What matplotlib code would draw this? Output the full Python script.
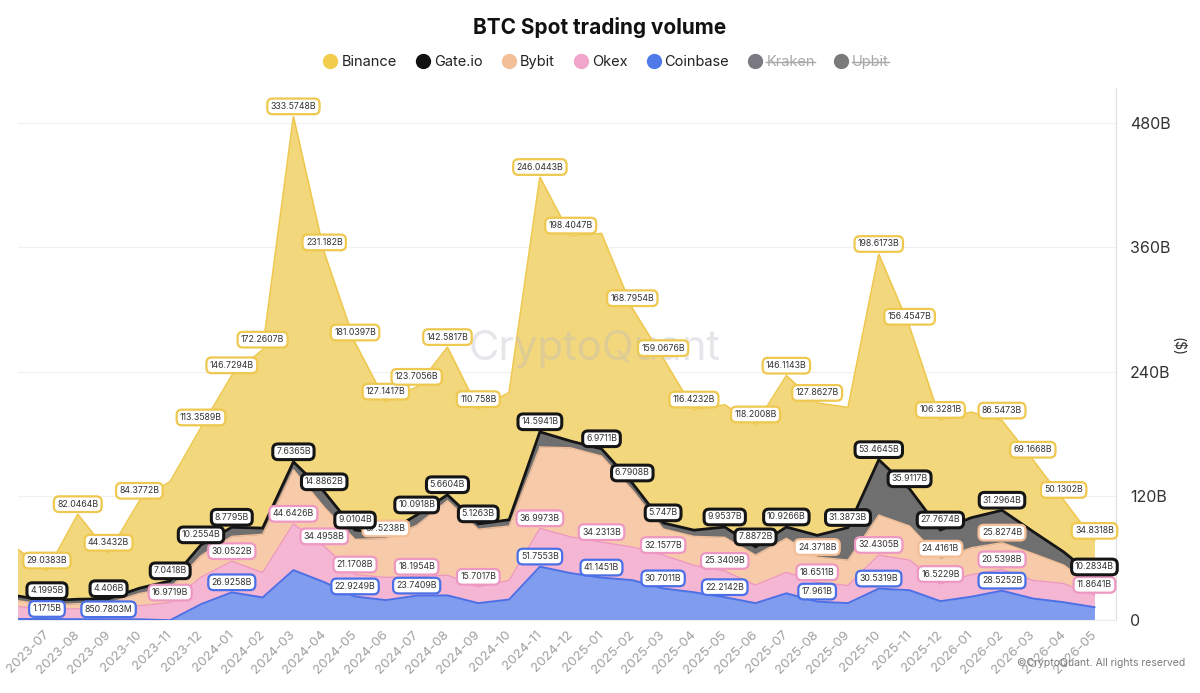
import numpy as np
import matplotlib
matplotlib.use('Agg')
import matplotlib.pyplot as plt
from matplotlib.lines import Line2D
from matplotlib.ticker import FuncFormatter

plt.rcParams['font.family'] = ['Inter', 'DejaVu Sans']

# monthly data, values in billions of USD (first month only partly visible)
months = ['2023-06', '2023-07', '2023-08', '2023-09', '2023-10', '2023-11', '2023-12',
          '2024-01', '2024-02', '2024-03', '2024-04', '2024-05', '2024-06',
          '2024-07', '2024-08', '2024-09', '2024-10', '2024-11', '2024-12',
          '2025-01', '2025-02', '2025-03', '2025-04', '2025-05', '2025-06',
          '2025-07', '2025-08', '2025-09', '2025-10', '2025-11', '2025-12',
          '2026-01', '2026-02', '2026-03', '2026-04', '2026-05']

coinbase = [1.2, 1.1715, 1.0, 0.8507803, 0.9, 0.0, 15.5,
            26.9258, 22.0, 48.4, 36.8, 22.9249, 19.4,
            23.7409, 24.0, 16.5, 20.0, 51.7553, 45.5,
            41.1451, 38.7, 30.7011, 27.0, 22.2142, 16.5,
            26.0, 17.961, 16.5, 30.5319, 29.0, 18.4,
            22.7, 28.5252, 21.0, 17.4, 12.6]
okex = [12.0, 9.5, 10.0, 10.0, 13.0, 16.9719, 26.0,
        30.0522, 24.0, 44.6426, 34.4958, 21.1708, 22.0,
        18.1954, 19.5, 15.7017, 18.4, 36.9973, 35.0,
        34.2313, 32.0, 32.1577, 26.0, 25.3409, 17.4,
        20.3, 18.6511, 17.0, 32.4305, 29.0, 16.5229,
        21.3, 20.5398, 17.5, 18.0, 11.8641]
bybit = [6.0, 4.0, 5.0, 5.5, 12.0, 14.0, 21.0,
         24.0, 37.0, 52.3, 37.8, 34.0, 37.5238,
         49.6, 72.0, 55.7, 52.6, 78.6, 86.0,
         83.2, 55.0, 25.4, 28.0, 32.5, 29.0,
         32.8, 24.3718, 24.6, 38.6, 33.0, 24.4161,
         26.0, 25.8274, 26.0, 18.0, 7.0]
gateio = [4.5, 4.1995, 4.3, 4.406, 5.0, 7.0418, 10.2554,
          8.7795, 6.0, 7.6365, 14.8862, 9.0104, 5.0,
          10.0918, 5.6604, 5.1263, 6.0, 14.5941, 6.5,
          6.9711, 6.7908, 5.747, 6.0, 9.9537, 7.8872,
          10.9266, 21.0, 31.3873, 53.4645, 35.9117, 27.7674,
          29.0, 31.2964, 21.3, 12.6, 10.2834]
binance = [46.0, 29.0383, 82.0464, 44.3432, 84.3772, 96.0, 113.3589,
           146.7294, 172.2607, 333.5748, 231.182, 181.0397, 127.1417,
           123.7056, 142.5817, 110.758, 123.0, 246.0443, 198.4047,
           208.0, 168.7954, 159.0676, 116.4232, 118.0, 118.2008,
           146.1143, 127.8627, 116.0, 198.6173, 156.4547, 106.3281,
           102.0, 86.5473, 69.1668, 50.1302, 34.8318]

# points that carry a value label in the picture (indices into months)
coinbase_lab = [1, 3, 7, 11, 13, 17, 19, 21, 23, 26, 28, 32]
okex_lab = [5, 7, 9, 10, 11, 13, 15, 17, 19, 21, 23, 26, 28, 30, 32, 35]
bybit_lab = [12, 26, 30, 32]
gateio_lab = [1, 3, 5, 6, 7, 9, 10, 11, 13, 14, 15, 17, 19, 20, 21, 23, 24, 25,
              27, 28, 29, 30, 32, 35]
binance_lab = [1, 2, 3, 4, 6, 7, 8, 9, 10, 11, 12, 13, 14, 15, 17, 18, 20, 21, 22,
               24, 25, 26, 28, 29, 30, 32, 33, 34, 35]

legend_names = ['Binance', 'Gate.io', 'Bybit', 'Okex', 'Coinbase', 'Kraken', 'Upbit']


def fmt(v):
    if v < 1:
        return ('%.4f' % (v * 1000)).rstrip('0').rstrip('.') + 'M'
    return ('%.4f' % v).rstrip('0').rstrip('.') + 'B'


x = np.arange(len(months))

fig = plt.figure(figsize=(12, 6.93), dpi=100)
ax = fig.add_axes([0.015, 0.105, 0.915, 0.768])

# series from bottom to top: values, fill, line, line width, label border, border width
series = [
    (coinbase, '#7f9cee', '#4a6fe6', 1.4, '#4a6fe6', 1.6, coinbase_lab),
    (okex, '#f4b6d3', '#ee97c2', 1.0, '#ee97c2', 1.6, okex_lab),
    (bybit, '#f7cbaa', '#f3bd96', 1.0, '#f3bd96', 1.6, bybit_lab),
    (gateio, '#6f6f6f', '#151515', 2.0, '#151515', 2.2, gateio_lab),
    (binance, '#f3d77c', '#eec84f', 1.2, '#eec84f', 1.6, binance_lab),
]

base = np.zeros(len(x))
tops = []
for vals, fc, lc, lw, ec, elw, lab in series:
    top = base + np.array(vals)
    ax.fill_between(x, base, top, color=fc, lw=0, zorder=2)
    ax.plot(x, top, color=lc, lw=lw, zorder=3, solid_joinstyle='miter')
    tops.append(top)
    base = top

for (vals, fc, lc, lw, ec, elw, lab), top in zip(series, tops):
    for k in lab:
        ax.annotate(fmt(vals[k]), (x[k], top[k]), xytext=(0, 4), textcoords='offset points',
                    ha='center', va='bottom', fontsize=6.3, color='#333333',
                    bbox=dict(boxstyle='round,pad=0.38,rounding_size=0.6', fc='white', ec=ec, lw=elw),
                    zorder=10, annotation_clip=False)

ax.set_xlim(0.06, 35.7)
ax.set_ylim(0, 514)

ax.yaxis.tick_right()
ax.set_yticks([0, 120, 240, 360, 480])
ax.yaxis.set_major_formatter(FuncFormatter(lambda v, p: '0' if v == 0 else '%dB' % v))
ax.tick_params(axis='y', length=0, pad=10, labelsize=11.5, labelcolor='#333333')
ax.set_xticks(x[1:])
ax.set_xticklabels(months[1:], rotation=45, ha='right', va='center', rotation_mode='anchor')
ax.tick_params(axis='x', length=0, pad=9, labelsize=9.5, labelcolor='#a0a0a0')
ax.grid(axis='y', color='#f1f1f1', lw=0.9, zorder=0)
ax.set_axisbelow(True)
for s in ['top', 'left']:
    ax.spines[s].set_visible(False)
ax.spines['right'].set_color('#dedede')
ax.spines['bottom'].set_color('#ededed')

ax.text(1.056, 0.515, '($)', transform=ax.transAxes, rotation=270, fontsize=10,
        color='#333333', ha='center', va='center')

# watermark and footer
ax.text(0.525, 0.51, 'CryptoQuant', transform=ax.transAxes, fontsize=30, color='#b8b8c4',
        alpha=0.35, ha='center', va='center', zorder=9)
fig.text(0.988, 0.044, '\u00a9CryptoQuant. All rights reserved', fontsize=7.5, color='#7a7a7a',
         ha='right', va='center')

fig.text(0.5, 0.961, 'BTC Spot trading volume', fontsize=15, fontweight='bold',
         color='#111111', ha='center', va='center')

marker_colors = ['#f2cd4c', '#111111', '#f2bf98', '#f1a5ca', '#4f7be9', '#7a7982', '#7a7a7a']
handles = [Line2D([], [], ls='none', marker='o', ms=10, mfc=c, mec=c) for c in marker_colors]
leg = fig.legend(handles, legend_names, loc='center', bbox_to_anchor=(0.505, 0.911), ncol=7,
                 frameon=False, fontsize=10.5, handletextpad=0.25, columnspacing=1.3,
                 handlelength=1.0)
for t in leg.get_texts()[:5]:
    t.set_color('#222222')
for t in leg.get_texts()[5:]:
    t.set_color('#a8a8a8')

# strike through the hidden series in the legend
fig.canvas.draw()
inv = fig.transFigure.inverted()
for t in leg.get_texts()[5:]:
    bb = t.get_window_extent()
    (x0, y0), (x1, y1) = inv.transform([[bb.x0, bb.y0], [bb.x1, bb.y1]])
    ym = y0 + 0.45 * (y1 - y0)
    fig.add_artist(Line2D([x0, x1], [ym, ym], color='#a8a8a8', lw=1.0))

fig.savefig('out.png', dpi=100)
